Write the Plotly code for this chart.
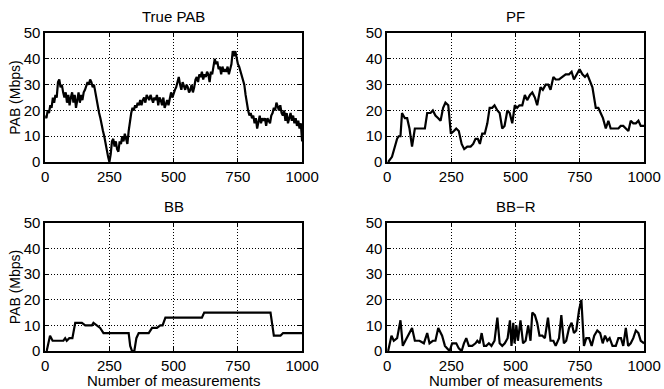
import plotly.graph_objects as go
from plotly.subplots import make_subplots

# True PAB, sampled every 5 measurements
true_x = list(range(0, 1001, 5))
true_y = [18, 17, 20, 19, 22, 21, 25, 23, 26, 25,
          31, 32, 29, 30, 27, 25, 27, 23, 26, 22,
          25, 27, 23, 26, 21, 25, 27, 23, 26, 24,
          27, 28, 30, 31, 30, 32, 31, 29, 30, 27,
          24, 21, 19, 17, 14, 12, 10, 7, 5, 2,
          0, 3, 8, 9, 6, 8, 5, 4, 8, 7,
          10, 8, 11, 9, 7, 12, 16, 19, 21, 20,
          22, 21, 23, 22, 24, 22, 24, 25, 23, 26,
          25, 24, 26, 24, 23, 25, 24, 26, 22, 25,
          24, 22, 25, 21, 23, 24, 22, 25, 27, 25,
          27, 28, 29, 31, 33, 30, 28, 31, 29, 28,
          30, 29, 27, 28, 30, 27, 29, 32, 33, 31,
          34, 33, 35, 32, 34, 33, 35, 34, 31, 35,
          34, 37, 40, 38, 39, 36, 37, 34, 37, 35,
          36, 35, 37, 34, 36, 38, 43, 41, 43, 40,
          38, 37, 35, 34, 32, 30, 26, 22, 20, 18,
          19, 17, 18, 15, 17, 13, 16, 18, 15, 17,
          16, 17, 14, 17, 16, 15, 18, 19, 21, 20,
          23, 21, 20, 22, 19, 18, 20, 16, 19, 15,
          17, 19, 16, 18, 15, 17, 14, 16, 13, 15,
          8]

# PF estimate
pf_x = [4, 19, 39, 45, 52, 58, 69, 78, 87, 97, 108, 123, 147, 156, 169, 178,
        188, 199, 208, 218, 227, 238, 248, 260, 269, 279, 290, 300, 312, 325,
        335, 344, 353, 361, 370, 380, 390, 399, 409, 418, 429, 438, 448, 457,
        468, 477, 487, 497, 506, 515, 526, 536, 545, 556, 565, 575, 584, 597,
        606, 617, 627, 636, 647, 656, 669, 682, 695, 708, 718, 727, 738, 749,
        760, 770, 779, 788, 799, 812, 822, 831, 840, 851, 861, 870, 890, 900,
        909, 919, 929, 939, 948, 958, 968, 978, 987, 1000]
pf_y = [0, 2, 9, 10, 10, 19, 17, 17, 13, 6, 13, 13, 13, 19, 19, 20,
        18, 17, 16, 21, 23, 22, 11, 12, 13, 12, 7, 5, 6, 6,
        7, 9, 9, 7, 11, 11, 15, 21, 21, 22, 20, 19, 13, 14,
        20, 19, 15, 22, 21, 22, 22, 26, 24, 26, 27, 25, 22, 29,
        28, 30, 30, 28, 33, 32, 32, 33, 34, 34, 35, 32, 34, 36,
        34, 33, 34, 32, 29, 21, 21, 19, 17, 13, 16, 13, 13, 13,
        14, 14, 13, 12, 16, 15, 15, 16, 14, 14]

# BB estimate
bb_x = [6, 19, 29, 71, 78, 84, 94, 106, 117, 143, 156, 182, 188, 201, 214,
        227, 325, 331, 338, 347, 355, 364, 403, 416, 435, 448, 457, 468, 610,
        619, 877, 890, 916, 926, 1000]
bb_y = [0, 6, 4, 4, 5, 4, 5, 5, 11, 11, 10, 10, 11, 10, 9,
        7, 7, 2, 0, 0, 5, 7, 7, 9, 9, 10, 10, 13, 13,
        15, 15, 6, 6, 7, 7]

# BB-R estimate
bbr_x = [4, 17, 26, 39, 52, 61, 71, 82, 97, 108, 126, 143, 156, 165, 178, 188,
         199, 214, 225, 234, 243, 253, 269, 279, 290, 299, 308, 318, 331, 344,
         351, 360, 368, 377, 386, 396, 406, 418, 429, 438, 448, 458, 469, 478,
         484, 491, 496, 503, 509, 519, 529, 539, 549, 558, 565, 575, 584, 593,
         604, 614, 626, 636, 647, 656, 669, 678, 688, 697, 708, 718, 727, 736,
         747, 756, 766, 775, 786, 796, 806, 818, 829, 839, 848, 857, 866, 877,
         890, 900, 910, 919, 929, 938, 948, 958, 968, 978, 987, 1000]
bbr_y = [0, 6, 4, 5, 12, 2, 4, 6, 9, 4, 4, 3, 7, 3, 4, 4,
         9, 6, 2, 1, 0, 3, 3, 1, 0, 3, 5, 2, 2, 3,
         4, 3, 7, 2, 2, 3, 2, 4, 13, 3, 2, 3, 5, 12,
         2, 11, 3, 10, 4, 12, 3, 4, 10, 4, 15, 14, 11, 6,
         6, 5, 13, 4, 4, 2, 5, 14, 3, 4, 9, 11, 7, 8,
         16, 20, 2, 5, 5, 2, 6, 8, 7, 3, 6, 4, 5, 2,
         2, 5, 5, 2, 9, 2, 3, 5, 8, 7, 4, 3]

titles = ["True PAB", "PF", "BB", "BB\u2212R"]
x_ticks = [0, 250, 500, 750, 1000]
y_ticks = [0, 10, 20, 30, 40, 50]

fig = make_subplots(rows=2, cols=2)
series = [(true_x, true_y), (pf_x, pf_y), (bb_x, bb_y), (bbr_x, bbr_y)]
cells = [(1, 1), (1, 2), (2, 1), (2, 2)]
for (xs, ys), (r, c) in zip(series, cells):
    fig.add_trace(go.Scatter(x=xs, y=ys, mode="lines",
                             line=dict(color="black", width=2.2),
                             showlegend=False), row=r, col=c)

font = dict(family="Liberation Sans, Arial, sans-serif", size=15, color="black")
axis_style = dict(showline=True, linecolor="black", linewidth=1.5,
                  mirror="ticks", ticks="inside", ticklen=4,
                  tickcolor="black", showgrid=True, gridcolor="black",
                  griddash="1px,2px", gridwidth=1, zeroline=False,
                  tickfont=font, automargin=False)

x_dom = [[0.068, 0.455], [0.583, 0.970]]
y_dom = [[0.5835, 0.915], [0.0977, 0.4267]]
for (r, c) in cells:
    fig.update_xaxes(domain=x_dom[c - 1], range=[0, 1000], tickvals=x_ticks,
                     row=r, col=c, **axis_style)
    fig.update_yaxes(domain=y_dom[r - 1], range=[0, 50], tickvals=y_ticks,
                     row=r, col=c, **axis_style)

fig.update_yaxes(title=dict(text="PAB (Mbps)", font=dict(font, size=14),
                            standoff=0), col=1)

# subplot titles
for t, (r, c) in zip(titles, cells):
    xc = sum(x_dom[c - 1]) / 2
    fig.add_annotation(text=t, x=xc, y=y_dom[r - 1][1], xref="paper", yref="paper",
                       xanchor="center", yanchor="bottom", yshift=6,
                       showarrow=False, font=font)

# x axis titles under the bottom row
for c in (1, 2):
    xc = sum(x_dom[c - 1]) / 2
    fig.add_annotation(text="Number of measurements", x=xc, y=y_dom[1][0],
                       xref="paper", yref="paper", xanchor="center",
                       yanchor="top", yshift=-19, showarrow=False, font=font)

fig.update_layout(width=664, height=389, margin=dict(l=0, r=0, t=0, b=0),
                  paper_bgcolor="white", plot_bgcolor="white", font=font)

# drop the default page margin so the figure sits at the window's corner
fig.write_html("out.html", config={"displayModeBar": False},
               post_script="document.body.style.margin='0';")
